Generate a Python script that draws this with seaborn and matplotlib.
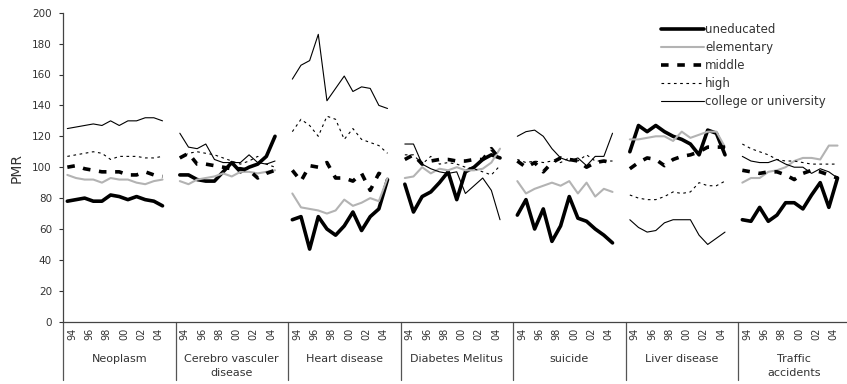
import numpy as np
import pandas as pd
import matplotlib
matplotlib.use("Agg")
import matplotlib.pyplot as plt
import matplotlib.transforms as mtransforms
from matplotlib.lines import Line2D
import seaborn as sns

# ---------------- data ----------------
diseases = ["Neoplasm", "Cerebro vasculer\ndisease", "Heart disease",
            "Diabetes Melitus", "suicide", "Liver disease", "Traffic\naccidents"]
years = ["93", "94", "95", "96", "97", "98", "99", "00", "01", "02", "03", "04"]
tick_years = ["94", "96", "98", "00", "02", "04"]
levels = ["uneducated", "elementary", "middle", "high", "college or university"]

uneducated = [
    [78, 79, 80, 78, 78, 82, 81, 79, 81, 79, 78, 75],
    [95, 95, 92, 91, 91, 97, 103, 97, 100, 102, 107, 120],
    [66, 68, 47, 68, 60, 56, 62, 71, 59, 68, 73, 92],
    [89, 71, 81, 84, 90, 97, 79, 97, 100, 105, 108, 106],
    [69, 79, 60, 73, 52, 62, 81, 67, 65, 60, 56, 51],
    [110, 127, 123, 127, 123, 120, 118, 115, 108, 124, 122, 108],
    [66, 65, 74, 65, 69, 77, 77, 73, 82, 90, 74, 93],
]
elementary = [
    [95, 93, 92, 92, 90, 93, 92, 92, 90, 89, 91, 92],
    [91, 89, 92, 93, 94, 96, 94, 97, 97, 96, 97, 98],
    [83, 74, 73, 72, 70, 72, 79, 75, 77, 80, 78, 93],
    [93, 94, 100, 96, 99, 98, 100, 98, 98, 99, 103, 112],
    [91, 83, 86, 88, 90, 88, 91, 83, 90, 81, 86, 84],
    [118, 118, 119, 120, 120, 117, 123, 119, 121, 123, 123, 113],
    [90, 93, 93, 97, 98, 100, 104, 106, 106, 105, 114, 114],
]
middle = [
    [100, 101, 99, 98, 97, 97, 97, 95, 95, 97, 95, 94],
    [106, 109, 102, 102, 101, 100, 99, 99, 98, 93, 96, 98],
    [98, 91, 101, 100, 103, 93, 93, 91, 96, 85, 96, 93],
    [105, 108, 102, 104, 105, 105, 104, 104, 105, 105, 112, 105],
    [104, 100, 103, 97, 103, 106, 105, 104, 100, 103, 104, 103],
    [99, 103, 106, 105, 101, 105, 107, 108, 110, 113, 113, 113],
    [98, 97, 96, 97, 97, 95, 92, 96, 98, 97, 95, 93],
]
high = [
    [107, 108, 109, 110, 109, 105, 107, 107, 107, 106, 106, 107],
    [106, 109, 110, 109, 108, 106, 104, 102, 104, 107, 102, 100],
    [123, 131, 127, 120, 133, 131, 118, 125, 118, 116, 114, 109],
    [108, 108, 102, 107, 102, 103, 102, 100, 99, 97, 95, 101],
    [105, 103, 104, 103, 104, 103, 106, 104, 108, 104, 104, 104],
    [82, 80, 79, 79, 81, 84, 83, 84, 90, 88, 88, 91],
    [115, 112, 110, 108, 105, 104, 104, 103, 102, 102, 102, 102],
]
college = [
    [125, 126, 127, 128, 127, 130, 127, 130, 130, 132, 132, 130],
    [122, 113, 112, 115, 105, 103, 103, 103, 108, 103, 102, 104],
    [157, 166, 169, 186, 143, 151, 159, 149, 152, 151, 140, 138],
    [115, 115, 102, 99, 97, 96, 97, 83, 88, 93, 85, 66],
    [120, 123, 124, 120, 112, 106, 104, 106, 101, 107, 107, 122],
    [66, 61, 58, 59, 64, 66, 66, 66, 56, 50, 54, 58],
    [107, 104, 103, 103, 105, 102, 100, 100, 96, 99, 97, 93],
]
series = dict(zip(levels, [uneducated, elementary, middle, high, college]))

SLOTS = 13  # 12 years + one blank slot per group

rows = []
for lev, table in series.items():
    for g, vals in enumerate(table):
        for i, v in enumerate(vals):
            rows.append(dict(level=lev, group=g, x=g * SLOTS + i, PMR=v))
df = pd.DataFrame(rows)

# ---------------- styling ----------------
sns.set_style("ticks")
plt.rcParams["font.family"] = ["DejaVu Sans"]
TXT = "#333333"

styles = {
    "uneducated": dict(color="black", lw=2.6, ls="-"),
    "elementary": dict(color="#b3b3b3", lw=1.5, ls="-"),
    "middle": dict(color="black", lw=2.6, ls=(0, (2.1, 2.4))),
    "high": dict(color="black", lw=0.8, ls=(0, (2.4, 3.2))),
    "college or university": dict(color="black", lw=0.8, ls="-"),
}

fig = plt.figure(figsize=(8.47, 3.84), dpi=100)
W, H = 847, 384
ax_left, ax_right, ax_top, ax_bot = 63, 850.5, 12.7, 321.7
ax = fig.add_axes([ax_left / W, (H - ax_bot) / H, (ax_right - ax_left) / W, (ax_bot - ax_top) / H])

for lev in levels:
    st = styles[lev]
    sns.lineplot(data=df[df.level == lev], x="x", y="PMR", units="group", estimator=None,
                 color=st["color"], linewidth=st["lw"], linestyle=st["ls"], ax=ax,
                 legend=False, sort=True)

ax.set_xlim(-0.5, len(diseases) * SLOTS - 0.5)
ax.set_ylim(0, 200)
ax.set_yticks(np.arange(0, 201, 20))
ax.tick_params(axis="y", length=3, width=0.8, pad=5, labelsize=7.5, colors=TXT)
ax.tick_params(axis="x", length=0, pad=4.5, labelsize=7, colors=TXT)

xt, xl = [], []
for g in range(len(diseases)):
    for k, lab in enumerate(tick_years):
        xt.append(g * SLOTS + years.index(lab) - 0.45)
        xl.append(lab)
ax.set_xticks(xt)
ax.set_xticklabels(xl, rotation=90)
ax.set_xlabel("")
ax.set_ylabel("")

for s in ["top", "right"]:
    ax.spines[s].set_visible(False)
for s in ["left", "bottom"]:
    ax.spines[s].set_color("#444444")
    ax.spines[s].set_linewidth(0.9)

trans = mtransforms.blended_transform_factory(ax.transData, ax.transAxes)
ybot = -(380 - ax_bot) / (ax_bot - ax_top)
for g in range(len(diseases)):
    xb = g * SLOTS - 0.5
    ax.plot([xb, xb], [0, ybot], transform=trans, clip_on=False, color="#555555", lw=0.9)
    ax.text(g * SLOTS + 6, -(354 - ax_bot) / (ax_bot - ax_top), diseases[g], transform=trans,
            ha="center", va="top", fontsize=8, color=TXT, linespacing=1.45)

fig.text(17 / W, 1 - 168 / H, "PMR", rotation=90, ha="center", va="center", fontsize=10, color=TXT)

handles = [Line2D([0], [0], color=styles[l]["color"], lw=styles[l]["lw"], ls=styles[l]["ls"]) for l in levels]
fig.legend(handles, levels, loc="upper left", bbox_to_anchor=(661 / W, 1 - 23 / H),
           frameon=False, handlelength=3.6, handletextpad=0.15, labelspacing=0.42,
           fontsize=8.5, borderpad=0, borderaxespad=0, labelcolor=TXT)

fig.savefig("out.png", dpi=100)
